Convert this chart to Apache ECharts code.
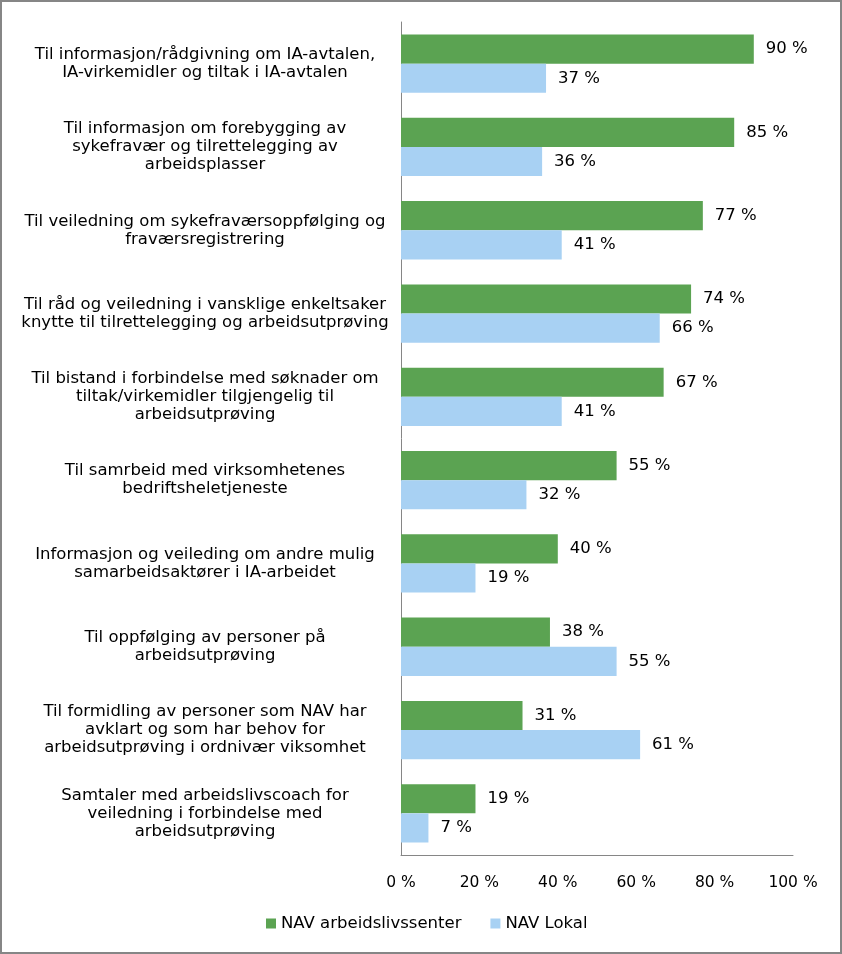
<!DOCTYPE html>
<html><head><meta charset="utf-8">
<script src="https://cdn.jsdelivr.net/npm/echarts@6/dist/echarts.min.js"></script>
<style>
html,body{margin:0;padding:0;background:#fff;}
#c{width:842px;height:954px;box-sizing:border-box;border:2px solid #868686;}
</style></head><body>
<div id="c"></div>
<script>
const categories = [
  "Til informasjon/rådgivning om IA-avtalen,\nIA-virkemidler og tiltak i IA-avtalen",
  "Til informasjon om forebygging av\nsykefravær og tilrettelegging av\narbeidsplasser",
  "Til veiledning om sykefraværsoppfølging og\nfraværsregistrering",
  "Til råd og veiledning i vansklige enkeltsaker\nknytte til tilrettelegging og arbeidsutprøving",
  "Til bistand i forbindelse med søknader om\ntiltak/virkemidler tilgjengelig til\narbeidsutprøving",
  "Til samrbeid med virksomhetenes\nbedriftsheletjeneste",
  "Informasjon og veileding om andre mulig\nsamarbeidsaktører i IA-arbeidet",
  "Til oppfølging av personer på\narbeidsutprøving",
  "Til formidling av personer som NAV har\navklart og som har behov for\narbeidsutprøving i ordnivær viksomhet",
  "Samtaler med arbeidslivscoach for\nveiledning i forbindelse med\narbeidsutprøving"
];
const seriesNames = ["NAV arbeidslivssenter", "NAV Lokal"];
const arbeidslivssenter = [90, 85, 77, 74, 67, 55, 40, 38, 31, 19];
const lokal = [37, 36, 41, 66, 41, 32, 19, 55, 61, 7];
const xTicks = [0, 20, 40, 60, 80, 100];

const font = "'DejaVu Sans', Verdana, sans-serif";
const chart = echarts.init(document.getElementById('c'), null, {renderer:'canvas'});
const labelStyle = {show:true, position:'right', distance:12, formatter:'{c} %', color:'#000', fontFamily:font, fontSize:16.5};
chart.setOption({
  animation:false,
  textStyle:{fontFamily:font},
  grid:{left:399, right:47, top:20, bottom:97, containLabel:false},
  legend:{
    bottom:15, left:259, itemWidth:10, itemHeight:10, itemGap:29, icon:'rect',
    textStyle:{fontFamily:font, fontSize:16.5, color:'#000'},
    data:seriesNames
  },
  xAxis:{
    type:'value', min:xTicks[0], max:xTicks[xTicks.length-1], interval:20,
    splitLine:{show:false},
    axisLine:{show:true, lineStyle:{color:'#868686', width:1}},
    axisTick:{show:false},
    axisLabel:{formatter:'{value} %', color:'#000', fontFamily:font, fontSize:15.5, margin:20}
  },
  yAxis:{
    type:'category', data:categories, inverse:true,
    axisLine:{show:true, lineStyle:{color:'#868686', width:1}},
    axisTick:{show:false},
    axisLabel:{align:'center', margin:196, color:'#000', fontFamily:font, fontSize:16.5, lineHeight:18}
  },
  series:[
    {name:seriesNames[0], type:'bar', data:arbeidslivssenter, itemStyle:{color:'#5ba352'},
     barGap:'0%', barCategoryGap:'30%', label:labelStyle},
    {name:seriesNames[1], type:'bar', data:lokal, itemStyle:{color:'#a8d1f3'},
     barGap:'0%', barCategoryGap:'30%', label:labelStyle}
  ]
});
</script>
</body></html>
